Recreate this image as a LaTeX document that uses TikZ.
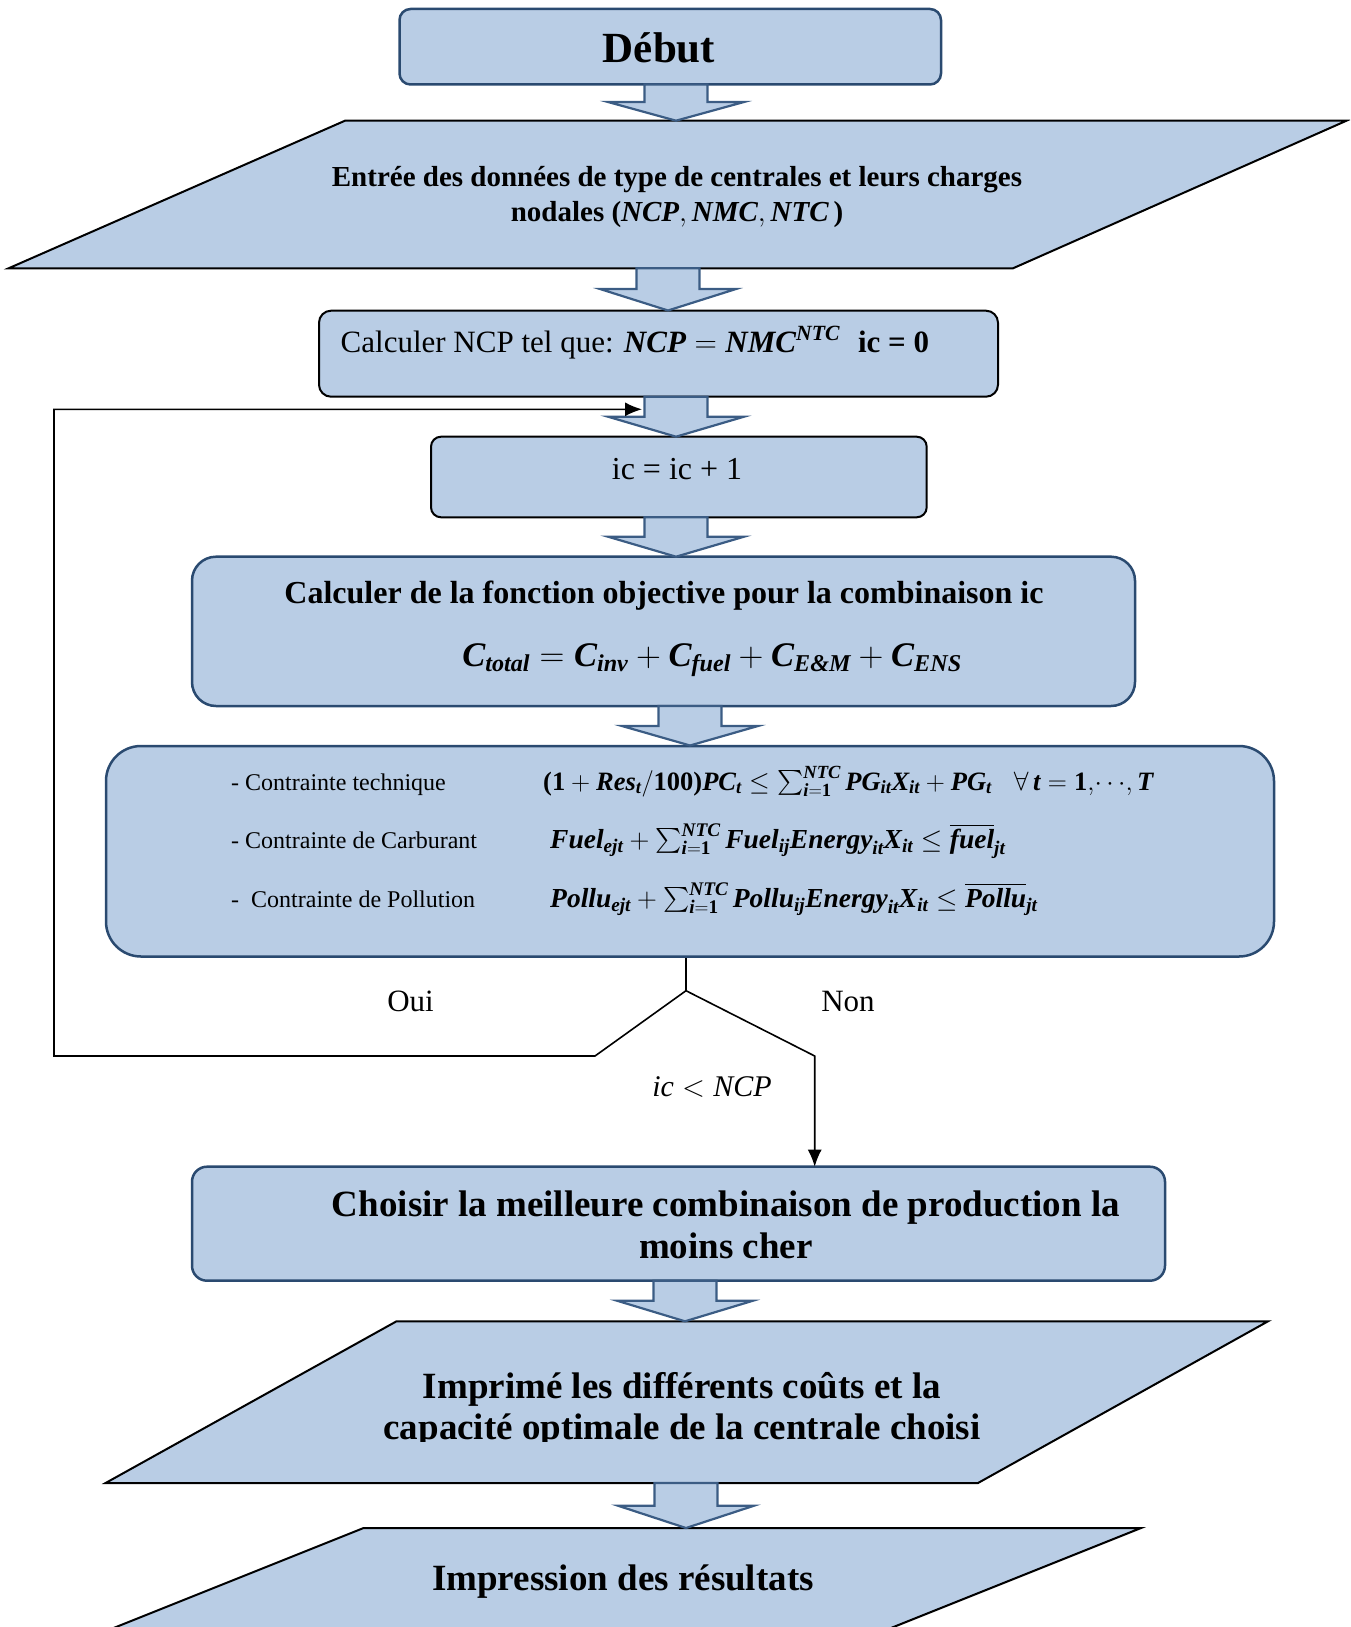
\RequirePackage{fix-cm}
\documentclass[tikz,border=0pt]{standalone}
\usepackage{amsmath}
\usepackage{fontspec}
\setmainfont{Liberation Serif}
\usetikzlibrary{arrows.meta}

\definecolor{boxfill}{HTML}{B9CDE5}
\definecolor{boxline}{HTML}{2A4A70}
\definecolor{arrline}{HTML}{3B5C84}

% bold italic / bold upright pieces inside formulas
\newcommand{\bi}[1]{\text{\bfseries\itshape #1}}
\newcommand{\bu}[1]{\text{\bfseries #1}}
\newcommand{\fs}[1]{\fontsize{#1}{#1}\selectfont}

% block arrow: centre x, shaft half width, head half width, top, shoulder, tip
\newcommand{\blockarrow}[6]{%
  \filldraw[blockarr] (#1-#2,#4) -- (#1+#2,#4) -- (#1+#2,#5) -- (#1+#3,#5)
    -- (#1,#6) -- (#1-#3,#5) -- (#1-#2,#5) -- cycle;}

\tikzset{
  roundbox/.style={draw=boxline, fill=boxfill, line width=2.5pt, inner sep=0pt},
  blackbox/.style={draw=black, fill=boxfill, line width=2pt, inner sep=0pt},
  iobox/.style={draw=black, fill=boxfill, line width=2pt, line join=miter},
  blockarr/.style={draw=arrline, fill=boxfill, line width=2.2pt, line join=miter},
  txt/.style={inner sep=0pt, anchor=base},
  txtw/.style={inner sep=0pt, anchor=base west},
  flow/.style={draw=black, line width=1.6pt},
  tip/.style={-{Latex[length=17pt,width=14pt]}},
}

\begin{document}
\begin{tikzpicture}[x=1pt,y=-1pt]
\useasboundingbox (0,0) rectangle (1350,1627);
\begin{scope}
\clip (0,0) rectangle (1350,1627);

% ---- process boxes ----
\node[roundbox, rounded corners=11pt, minimum width=541.5pt, minimum height=75.5pt] (debut) at (670.25,46.75) {};
\node[blackbox, rounded corners=12pt, minimum width=679pt, minimum height=86pt] (ncp) at (658.5,353.7) {};
\node[blackbox, rounded corners=10pt, minimum width=495.7pt, minimum height=80.6pt] (inc) at (678.85,477) {};
\node[roundbox, rounded corners=24pt, minimum width=943pt, minimum height=149.3pt] (obj) at (663.5,631.35) {};
\node[roundbox, rounded corners=35pt, minimum width=1168pt, minimum height=210.5pt] (cons) at (690,851.25) {};
\node[roundbox, rounded corners=15pt, minimum width=973pt, minimum height=114pt] (best) at (678.5,1223.7) {};

% ---- input / output parallelograms ----
\filldraw[iobox] (345,120.7) -- (1346.5,120.7) -- (1013,268.3) -- (8.6,268.3) -- cycle;
\filldraw[iobox] (396.5,1321.3) -- (1268,1321.3) -- (978,1483) -- (105.6,1483) -- cycle;
\filldraw[iobox] (363.6,1528) -- (1141,1528) -- (771,1676) -- (-6.4,1676) -- cycle;

% ---- block arrows between the steps ----
\blockarrow{676}{31.5}{68}{84.5}{102}{120.7}
\blockarrow{668}{31.5}{68}{268.3}{289}{310.5}
\blockarrow{676}{31.5}{68}{396.7}{416.7}{436.7}
\blockarrow{676}{31.5}{68}{517.3}{536.7}{556.7}
\blockarrow{690}{31.5}{68}{706}{726}{745.5}
\blockarrow{685}{31.5}{68}{1280.7}{1300.7}{1321.3}
\blockarrow{686}{31.5}{68}{1483}{1505.7}{1528}

% ---- decision branches ----
\coordinate (dec) at (686,990.7);
\coordinate (ouiA) at (595,1056);
\coordinate (ouiB) at (54,1056);
\coordinate (ouiC) at (54,409.3);
\coordinate (loopend) at (642,409.3);
\coordinate (nonA) at (814.7,1056);
\coordinate (nonB) at (814.7,1166.7);
\draw[flow] (dec |- cons.south) -- (dec);
\draw[flow, tip] (dec) -- (ouiA) -- (ouiB) -- (ouiC) -- (loopend);
\draw[flow, tip] (dec) -- (nonA) -- (nonB);

% ---- texts ----
\node[txt, font=\fs{43}\bfseries] (tdebut) at (659,62.7) {Début};

\node[txt, font=\fs{29}\bfseries] (tin1) at (677,186.7) {Entrée des données de type de centrales et leurs charges};
\node[txt, font=\fs{29}\bfseries] (tin2) at (677,221.7) {nodales ($\bi{NCP},\bi{NMC},\bi{NTC}$\,)};

\node[txtw, font=\fs{31}] (tncp) at (340.5,352.3) {Calculer NCP tel que: $\bi{NCP}=\bi{NMC}^{\bi{NTC}}$\hspace{18pt}\textbf{ic = 0}};

\node[txt, font=\fs{32}] (tinc) at (677,479.3) {ic = ic + 1};

\node[txt, font=\fs{32}\bfseries] (tobj) at (664,603.3) {Calculer de la fonction objective pour la combinaison ic};
\node[txt, font=\fs{34.5}] (tcost) at (712,666.7) {$\bi{C}_{\bi{total}}=\bi{C}_{\bi{inv}}+\bi{C}_{\bi{fuel}}+\bi{C}_{\bi{E\&M}}+\bi{C}_{\bi{ENS}}$};

\node[txtw, font=\fs{24}] (l1) at (231,790) {- Contrainte technique};
\node[txtw, font=\fs{24}] (l2) at (231,848) {- Contrainte de Carburant};
\node[txtw, font=\fs{24}] (l3) at (231,907) {-\ \ Contrainte de Pollution};

\node[txtw, font=\fs{26.5}] (f1) at (543,790) {$\bu{(1}+\bi{Res}_{\bi{t}}/\bu{100)}\bi{PC}_{\bi{t}}\le\sum_{\bi{i}=\bu{1}}^{\bi{NTC}}\bi{PG}_{\bi{it}}\bi{X}_{\bi{it}}+\bi{PG}_{\bi{t}}\;\;\;\forall\,\bi{t}=\bu{1},\!\cdots\!,\bi{T}$};
\node[txtw, font=\fs{27.5}] (f2) at (550,848) {$\bi{Fuel}_{\bi{ejt}}+\sum_{\bi{i}=\bu{1}}^{\bi{NTC}}\bi{Fuel}_{\bi{ij}}\bi{Energy}_{\bi{it}}\bi{X}_{\bi{it}}\le\overline{\bi{fuel}}_{\bi{jt}}$};
\node[txtw, font=\fs{27.5}] (f3) at (550,907) {$\bi{Pollu}_{\bi{ejt}}+\sum_{\bi{i}=\bu{1}}^{\bi{NTC}}\bi{Pollu}_{\bi{ij}}\bi{Energy}_{\bi{it}}\bi{X}_{\bi{it}}\le\overline{\bi{Pollu}}_{\bi{jt}}$};

\node[txt, font=\fs{31}] (toui) at (410.5,1011.7) {Oui};
\node[txt, font=\fs{31}] (tnon) at (848,1011.7) {Non};
\node[txt, font=\fs{30}] (tcond) at (712,1096.7) {$\text{\itshape ic}<\text{\itshape NCP}$};

\node[txt, font=\fs{37}\bfseries] (tbest1) at (726,1216.7) {Choisir la meilleure combinaison de production la};
\node[txt, font=\fs{37}\bfseries] (tbest2) at (726,1258.3) {moins cher};

\node[txt, font=\fs{37}\bfseries] (tout1) at (682,1398.3) {Imprimé les différents coûts et la};
\begin{scope}
\clip (0,0) rectangle (1350,1441);
\node[txt, font=\fs{37}\bfseries] (tout2) at (682,1439.3) {capacité optimale de la centrale choisi};
\end{scope}

\node[txt, font=\fs{37}\bfseries] (tres) at (623,1590) {Impression des résultats};
\end{scope}
\end{tikzpicture}
\end{document}
